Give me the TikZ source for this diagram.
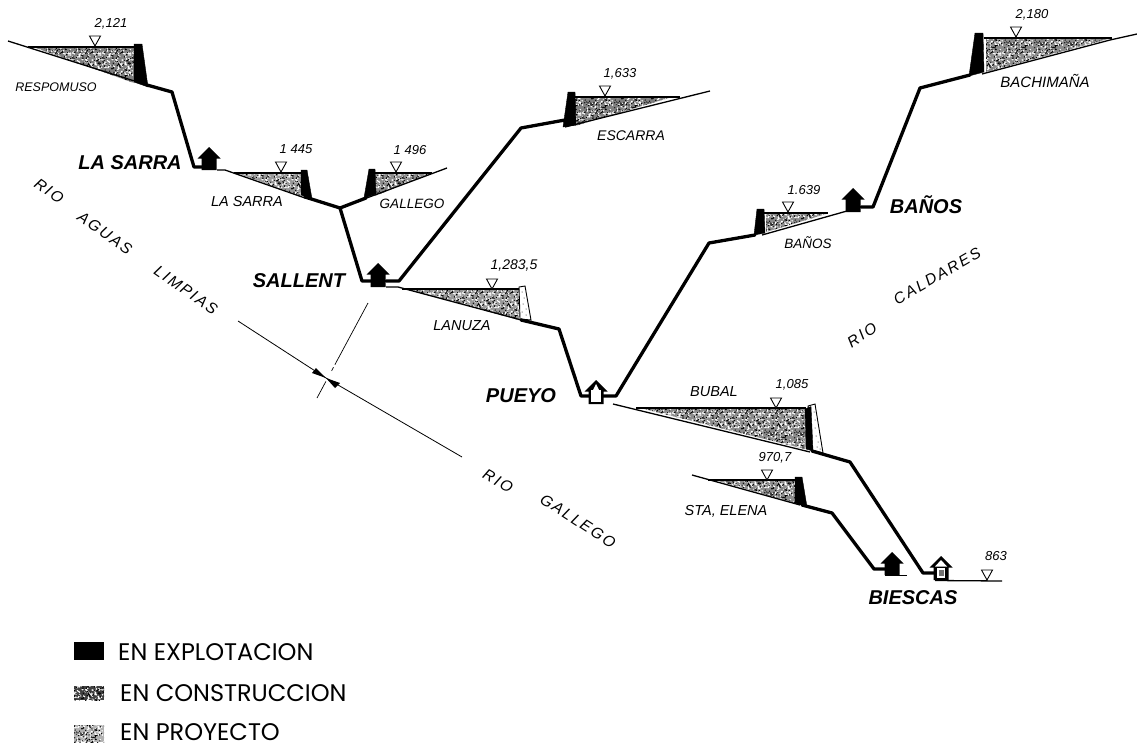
\documentclass[tikz,border=0pt]{standalone}
\usepackage{fontspec}
\setmainfont{Liberation Sans}
\newfontfamily\legendfont{Poppins}
\usetikzlibrary{patterns}
\pgfmathsetseed{4242}
\pgfdeclarepatternformonly{speckW}{\pgfqpoint{-1pt}{-1pt}}{\pgfqpoint{31pt}{31pt}}{\pgfqpoint{30pt}{30pt}}{%
  \foreach \i in {1,...,150}{%
    \pgfmathsetmacro{\sx}{rnd*30}\pgfmathsetmacro{\sy}{rnd*30}%
    \pgfpathcircle{\pgfqpoint{\sx pt}{\sy pt}}{.85pt}}%
  \pgfusepath{fill}}
\pgfdeclarepatternformonly{speckB}{\pgfqpoint{-1pt}{-1pt}}{\pgfqpoint{31pt}{31pt}}{\pgfqpoint{30pt}{30pt}}{%
  \foreach \i in {1,...,120}{%
    \pgfmathsetmacro{\sx}{rnd*30}\pgfmathsetmacro{\sy}{rnd*30}%
    \pgfpathcircle{\pgfqpoint{\sx pt}{\sy pt}}{.7pt}}%
  \pgfusepath{fill}}
\tikzset{
  x=1pt,y=-1pt,
  pipe/.style={line width=3.3pt,line join=round,line cap=round},
  ground/.style={line width=1.3pt},
  water/.style={line width=1.2pt},
  damblack/.style={fill=black,draw=black,line width=.4pt},
  damwhite/.style={fill=white,draw=black,line width=.9pt},
  levelmark/.style={draw=black,fill=white,line width=.9pt},
  reslabel/.style={font=\fontsize{#1}{#1}\selectfont\itshape,inner sep=0pt},
  reslabel/.default=14.5,
  hgtlabel/.style={font=\fontsize{#1}{#1}\selectfont\itshape,inner sep=0pt},
  hgtlabel/.default=13,
  station/.style={font=\fontsize{20}{22}\selectfont\bfseries\itshape,inner sep=0pt},
  riverlabel/.style={font=\fontsize{15.5}{17}\selectfont\itshape\addfontfeature{LetterSpace=13},inner sep=0pt},
  legendlabel/.style={font=\fontsize{24}{26}\selectfont\legendfont,inner sep=0pt,anchor=west},
}
% #1 = polygon, #2 = grey
\newcommand{\speckle}[2]{%
  \fill[black!#2] #1;
  \fill[pattern=speckW,pattern color=white] #1;
  \fill[pattern=speckB,pattern color=black] #1;}
% level marker
\newcommand{\lvl}[2]{\draw[levelmark] (#1-5.5,#2-10) -- (#1+5.5,#2-10) -- (#1,#2) -- cycle;}
% house: #1 x centre, #2 apex y, #3 style, #4 height
\newcommand{\house}[4]{\path[#3] (#1,#2) -- (#1+11.5,#2+11.5) -- (#1+7.5,#2+11.5) -- (#1+7.5,#2+#4) -- (#1-7.5,#2+#4) -- (#1-7.5,#2+11.5) -- (#1-11.5,#2+11.5) -- cycle;}
\begin{document}
\begin{tikzpicture}
\useasboundingbox (0,0) rectangle (1137,744);
\fill[white] (0,0) rectangle (1137,744);

% ---------- RESPOMUSO
\speckle{(33,47)--(134,47)--(134,83)--cycle}{50}
\draw[ground] (8,41) -- (147,85);
\draw[water] (28,47) -- (135,47);
\path[damblack] (134,44) -- (142,44) -- (148,87) -- (134,82) -- cycle;
\draw[pipe] (147,85) -- (172,92) -- (194,167) -- (204,167);
\lvl{95}{46}
\node[hgtlabel] (h1) at (111,24) {2,121};
\node[reslabel=12.5] (n1) at (56,87) {RESPOMUSO};
% ---------- LA SARRA
\house{209}{147}{fill=black}{23}
\speckle{(237,173)--(301,173)--(301,196)--cycle}{40}
\draw[ground] (217,170) -- (225,170) -- (305,198);
\draw[water] (234,173) -- (302,173);
\path[damblack] (301,170) -- (307,170) -- (312,199) -- (301,195) -- cycle;
\draw[pipe] (305,197) -- (340,208);
\lvl{281}{172}
\node[hgtlabel] (h2) at (296,149) {1 445};
\node[reslabel] (n2) at (247,202) {LA SARRA};
\node[station] (s1) at (130,163) {LA SARRA};
% ---------- GALLEGO
\speckle{(375,173)--(431,173)--(375,196)--cycle}{45}
\draw[ground] (364,199) -- (447,168);
\draw[water] (374,173) -- (432,173);
\path[damblack] (364,198) -- (369,169) -- (375,169) -- (376,194) -- cycle;
\draw[pipe] (340,208) -- (366,198);
\lvl{396}{172}
\node[hgtlabel] (h3) at (410,150) {1 496};
\node[reslabel=13.5] (n3) at (412,204) {GALLEGO};
% ---------- SALLENT
\draw[pipe] (340,208) -- (362,281) -- (372,281);
\house{378}{263}{fill=black}{24}
\draw[pipe] (386,281) -- (399,281) -- (521,128) -- (565,120);
\node[station] (s2) at (299,281) {SALLENT};
% ---------- ESCARRA
\speckle{(575,97)--(672,97)--(575,126)--cycle}{50}
\draw[ground] (565,127) -- (710,91);
\draw[water] (574,97) -- (680,97);
\path[damblack] (563,127) -- (568,92) -- (575,92) -- (576,125) -- cycle;
\lvl{605}{96}
\node[hgtlabel] (h4) at (620,74) {1,633};
\node[reslabel=14] (n4) at (631,136) {ESCARRA};
% ---------- LANUZA
\speckle{(408,289)--(519,289)--(519,320)--cycle}{40}
\draw[ground] (386,287) -- (398,287) -- (525,321);
\draw[water] (402,289) -- (521,289);
\path[damwhite] (519,287) -- (525,286) -- (531,320) -- (520,319) -- cycle;
\foreach \dx/\dy in {522/292,524/298,523/304,526/309,522/312,526/315}{\fill (\dx,\dy) circle (.5pt);}
\draw[pipe] (521,320) -- (559,329) -- (581,396) -- (590,396);
\lvl{492}{289}
\node[hgtlabel=14] (h5) at (514,266) {1,283,5};
\node[reslabel] (n5) at (462,326) {LANUZA};
% ---------- PUEYO
\house{596}{380}{fill=black}{24}
\path[fill=white] (591,390) rectangle (601,402);
\path[fill=white] (596,384) -- (600,392) -- (592,392) -- cycle;
\draw[pipe] (603,396) -- (616,396) -- (709,243) -- (755,235);
\node[station] (s3) at (521,396) {PUEYO};
% ---------- BAÑOS
\speckle{(766,214)--(826,214)--(766,232)--cycle}{45}
\draw[ground] (762,235) -- (847,211);
\draw[water] (764,213) -- (828,213);
\path[damblack] (754,235) -- (757,209) -- (764,209) -- (765,233) -- cycle;
\lvl{788}{212}
\node[hgtlabel] (h6) at (804,190) {1.639};
\node[reslabel=13.5] (n6) at (808,243) {BAÑOS};
\house{853}{188}{fill=black}{24}
\draw[pipe] (861,207) -- (873,207) -- (920,88) -- (970,75);
\node[station] (s4) at (926,205) {BAÑOS};
% ---------- BACHIMAÑA
\speckle{(986,39)--(1108,39)--(986,72)--cycle}{45}
\draw[ground] (982,74) -- (1110,40) -- (1137,34);
\draw[water] (984,38) -- (1112,38);
\path[damblack] (969,76) -- (975,33) -- (983,33) -- (984,72) -- cycle;
\lvl{1016}{37}
\node[hgtlabel] (h7) at (1032,15) {2,180};
\node[reslabel=15] (n7) at (1045,81) {BACHIMAÑA};
% ---------- BUBAL
\speckle{(640,408)--(805,408)--(805,449)--cycle}{45}
\draw[ground] (613,404) -- (810,452);
\draw[water] (636,408) -- (806,408);
\path[damwhite] (808,406) -- (815,404) -- (823,453) -- (812,450) -- cycle;
\path[damblack] (805,409) -- (811,406.5) -- (813,451) -- (806,449) -- cycle;
\foreach \dx/\dy in {814/412,815/420,815/428,816/436,818/442,817/447,820/449}{\fill (\dx,\dy) circle (.5pt);}
\draw[pipe] (812,451) -- (850,462) -- (923,573) -- (934,573);
\lvl{776}{408}
\node[hgtlabel] (h8) at (792,385) {1,085};
\node[reslabel] (n8) at (714,392) {BUBAL};
% ---------- STA ELENA
\speckle{(715,480)--(795,480)--(795,503)--cycle}{45}
\draw[ground] (692,475) -- (800,505);
\draw[water] (708,480) -- (796,480);
\path[damblack] (795,477) -- (802,477) -- (807,507) -- (795,503) -- cycle;
\draw[pipe] (802,505) -- (832,513) -- (874,569) -- (885,569);
\lvl{767}{480}
\node[hgtlabel] (h9) at (775,458) {970,7};
\node[reslabel] (n9) at (726,511) {STA, ELENA};
% ---------- BIESCAS
\house{892}{552}{fill=black}{23}
\draw[line width=.9pt] (885,575) -- (907,575);
\house{941}{556}{fill=black}{24}
\path[fill=white] (937,568) rectangle (945,578);
\path[fill=white] (941,560) -- (947,566.5) -- (935,566.5) -- cycle;
\fill[black!55] (939,570) rectangle (944,576);
\draw[ground] (935,580.5) -- (1002,581);
\lvl{987}{580}
\node[hgtlabel] (h10) at (996,556) {863};
\node[station] (s5) at (913,598) {BIESCAS};
% ---------- RIVERS
\coordinate (ra) at (238,321);
\coordinate (rc) at (326,378);
\coordinate (rb) at (462,457);
\coordinate (xa) at (368,303);
\coordinate (xb) at (317,398);
\draw[line width=.8pt] (ra) -- (rc) -- (rb);
\draw[line width=.7pt,dash pattern=on 70pt off 3pt on 4pt off 12pt on 20pt] (xa) -- (xb);
\fill (316,368) -- (rc) -- (312,373) -- cycle;
\fill (340,383) -- (rc) -- (335,388) -- cycle;
\node[riverlabel,rotate=-35] at (49,191) {RIO};
\node[riverlabel,rotate=-35] at (105,233) {AGUAS};
\node[riverlabel,rotate=-35] at (186,290) {LIMPIAS};
\node[riverlabel,rotate=-30] at (498,481) {RIO};
\node[riverlabel,rotate=-33] at (578,521) {GALLEGO};
\node[riverlabel,rotate=33] at (862,335) {RIO};
\node[riverlabel,rotate=30] at (937,276) {CALDARES};
% ---------- LEGEND
\fill[black] (74,642) rectangle (104,660);
\speckle{(74,686)--(104,686)--(104,700)--(74,700)--cycle}{75}
\speckle{(74,725)--(104,725)--(104,742)--(74,742)--cycle}{30}
\node[legendlabel] (l1) at (118,652) {EN EXPLOTACION};
\node[legendlabel] (l2) at (120,693) {EN CONSTRUCCION};
\node[legendlabel] (l3) at (120,732) {EN PROYECTO};
\end{tikzpicture}
\end{document}
